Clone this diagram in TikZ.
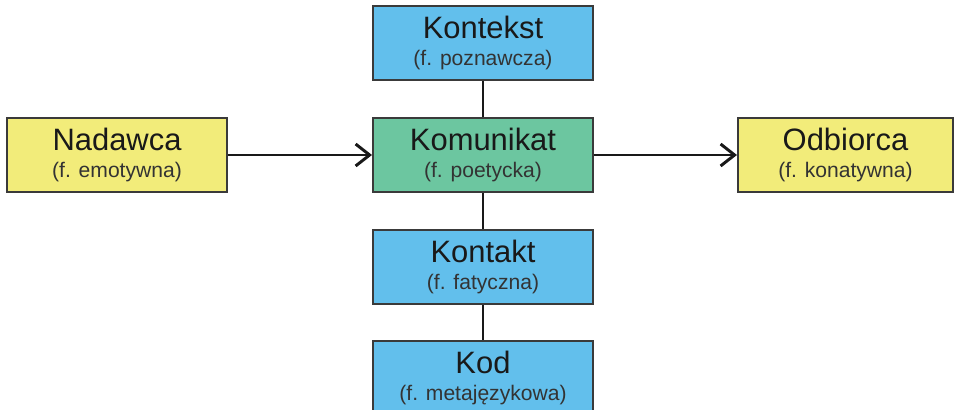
\documentclass[tikz,border=0pt]{standalone}
\usepackage{fontspec}
\setmainfont{Liberation Sans}
\usepackage{xcolor}
\usepackage{tikz}
\usetikzlibrary{positioning}
\usetikzlibrary{arrows.meta}
\definecolor{niebieski}{HTML}{62BFEC}
\definecolor{zielony}{HTML}{6CC6A0}
\definecolor{zolty}{HTML}{F2EC7A}
\definecolor{ramka}{HTML}{3A3A3A}
\newcommand{\glowny}{\fontsize{22}{19}\selectfont}
\newcommand{\opis}{\fontsize{15}{19}\selectfont\color{black!80}}

\begin{document}
\begin{tikzpicture}[
		pole/.style={draw=ramka,line width=1.4pt,minimum width=5.5cm,minimum height=1.85cm,inner sep=0pt,align=center,text=black!90,font=\glowny},
		niebpole/.style={pole,fill=niebieski},
		zolpole/.style={pole,fill=zolty},
		zielpole/.style={pole,fill=zielony},
		linia/.style={line width=2.1pt,black!90},
		strzalka/.style={linia,-{Straight Barb[length=3.5mm,width=5.5mm]}},
		node distance=0.9cm and 3.625cm]
		\useasboundingbox (-12.075,-6.375) rectangle (11.85,3.875);
		\node[zielpole] (komunikat) at (0,0) {Komunikat\\{\opis (f. poetycka)}};
		\node[niebpole,above=of komunikat] (kontekst) {Kontekst\\{\opis (f. poznawcza)}};
		\node[niebpole,below=of komunikat] (kontakt) {Kontakt\\{\opis (f. fatyczna)}};
		\node[niebpole,below=0.875cm of kontakt] (kod) {Kod\\{\opis (f. metajęzykowa)}};
		\node[zolpole,left=3.6cm of komunikat] (nadawca) {Nadawca\\{\opis (f. emotywna)}};
		\node[zolpole,right=3.575cm of komunikat,minimum width=5.375cm] (odbiorca) {Odbiorca\\{\opis (f. konatywna)}};
		\draw[linia] (kontekst) -- (komunikat);
		\draw[linia] (komunikat) -- (kontakt);
		\draw[linia] (kontakt) -- (kod);
		\draw[strzalka] (nadawca) -- (komunikat);
		\draw[strzalka] (komunikat) -- (odbiorca);
	\end{tikzpicture}
\end{document}
